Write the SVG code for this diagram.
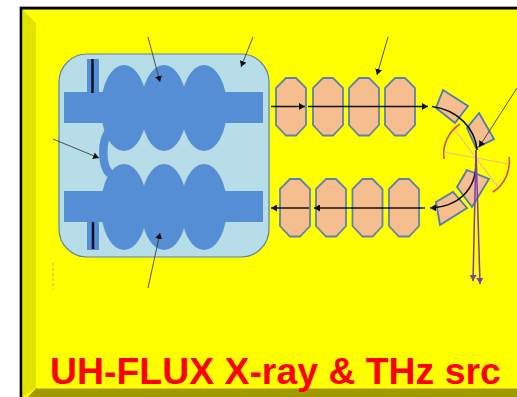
<svg xmlns="http://www.w3.org/2000/svg" width="517" height="397" viewBox="0 0 517 397">
<style>
.blue{fill:#558ed5}
.oct{fill:#f6be8e;stroke:#5f82ad;stroke-width:1.8}
.mag{fill:#f6be8e;stroke:#4f7cae;stroke-width:1.8}
.thin{fill:none;stroke:#3c3c3c;stroke-width:.9}
.beam{fill:none;stroke:#111;stroke-width:1.6}
.pale{fill:none;stroke:#f2b98c;stroke-width:1.2}
.red{fill:none;stroke:#cf4f6c;stroke-width:1.6}
.pur{fill:none;stroke:#7a3fb5;stroke-width:1.5}
.title{font-family:"Liberation Sans",Arial,sans-serif;font-weight:700;font-size:37.4px;fill:#ff0000}
</style>
<defs>
<marker id="a" markerUnits="userSpaceOnUse" markerWidth="7" markerHeight="7" refX="6" refY="3.5" orient="auto"><path d="M0 0L6 3.500L0 7Z" fill="#111"/></marker>
<marker id="p" markerUnits="userSpaceOnUse" markerWidth="7" markerHeight="7" refX="6" refY="3.5" orient="auto"><path d="M0 0L6 3.500L0 7Z" fill="#7a3fb5"/></marker>
</defs>
<rect width="517" height="397" fill="#fff"/>
<g id="frame">
<rect x="20" y="7" width="497" height="390" fill="#000"/>
<path d="M19.500 397V6.500H517" fill="none" stroke="#aaa" stroke-width="1"/>
<rect x="22.500" y="9.500" width="494.500" height="387.500" fill="#ffff00"/>
<path d="M22.500 9.500L36 23V388L22.500 397Z" fill="#e3e300"/>
<path d="M28 397L36 388.500H517V397Z" fill="#a09a00"/>
</g>
<g id="cavity">
<rect x="59" y="54" width="210" height="203" rx="28" fill="#b7dde8" stroke="#5f82ad" stroke-width="1.200"/>
<g class="blue">
<rect x="64" y="92" width="199" height="31"/>
<rect x="64" y="191" width="199" height="31"/>
<rect x="87" y="59" width="12" height="33"/>
<rect x="87" y="222" width="12" height="28"/>
<ellipse cx="124" cy="108" rx="23" ry="43"/>
<ellipse cx="164" cy="108" rx="23" ry="43"/>
<ellipse cx="204" cy="108" rx="23" ry="43"/>
<ellipse cx="124" cy="207" rx="23" ry="43"/>
<ellipse cx="164" cy="207" rx="23" ry="43"/>
<ellipse cx="204" cy="207" rx="23" ry="43"/>
</g>
<path d="M110 130C101 140 101 165 110 174" fill="none" stroke="#558ed5" stroke-width="8.500"/>
<path d="M92.500 59V93M93 222V249" fill="none" stroke="#0a0f20" stroke-width="2.500"/>
</g>
<g id="linac-upper">
<path class="oct" d="M286 78H296L306 88V125L296 135.500H286L276 125V88Z"/>
<path class="oct" d="M323 78H333L343 88V125L333 135.500H323L313 125V88Z"/>
<path class="oct" d="M359 78H369L379 88V125L369 135.500H359L349 125V88Z"/>
<path class="oct" d="M395 78H405L415 88V125L405 135.500H395L385 125V88Z"/>
</g>
<g id="linac-lower">
<path class="oct" d="M290 179H300L310 189V226L300 236.500H290L280 226V189Z"/>
<path class="oct" d="M326 179H336L346 189V226L336 236.500H326L316 226V189Z"/>
<path class="oct" d="M362.500 179H372.500L382.500 189V226L372.500 236.500H362.500L352.500 226V189Z"/>
<path class="oct" d="M399 179H409L419 189V226L409 236.500H399L389 226V189Z"/>
</g>
<g id="magnets">
<path class="mag" d="M443 90L468 106L455 123L436 108Z"/>
<path class="mag" d="M479 113L494 139L476 148L467 128Z"/>
<path class="mag" d="M467 170L489 179L472 207L457 187Z"/>
<path class="mag" d="M436 202L453 192L467 208L440 225Z"/>
</g>
<g id="fan">
<path class="red" d="M460 124A36 36 0 0 0 444 159"/>
<path class="red" d="M509 157A36 36 0 0 1 493 192"/>
<path class="pale" d="M444 152L509 164M455 130L498 187"/>
</g>
<g id="connectors">
<path class="thin" marker-end="url(#a)" d="M148 37L160 82"/>
<path class="thin" marker-end="url(#a)" d="M253 37L241 67"/>
<path class="thin" marker-end="url(#a)" d="M53 139L99 158"/>
<path class="thin" marker-end="url(#a)" d="M148 288L160 233"/>
<path class="thin" marker-end="url(#a)" d="M388 37L377 75"/>
<path class="thin" marker-end="url(#a)" d="M517 88L479 147"/>
<path d="M53 263V289" fill="none" stroke="#8a9a80" stroke-width=".7" stroke-dasharray="3 2"/>
<path class="beam" marker-end="url(#a)" d="M271 106.500H305"/>
<path class="beam" marker-end="url(#a)" d="M308 106.500H428"/>
<path class="beam" d="M432 106.500C458 110 475 128 477 150"/>
<path class="beam" marker-end="url(#a)" d="M476 163C476 190 458 207 430 208"/>
<path class="beam" marker-end="url(#a)" d="M425 208H314"/>
<path class="beam" marker-end="url(#a)" d="M309 208H271"/>
<path class="pur" marker-end="url(#p)" d="M476 150L473 281"/>
<path class="pur" marker-end="url(#p)" d="M476 150L480 284"/>
</g>
<text class="title" x="50" y="384">UH-FLUX X-ray &amp; THz src</text>
</svg>
